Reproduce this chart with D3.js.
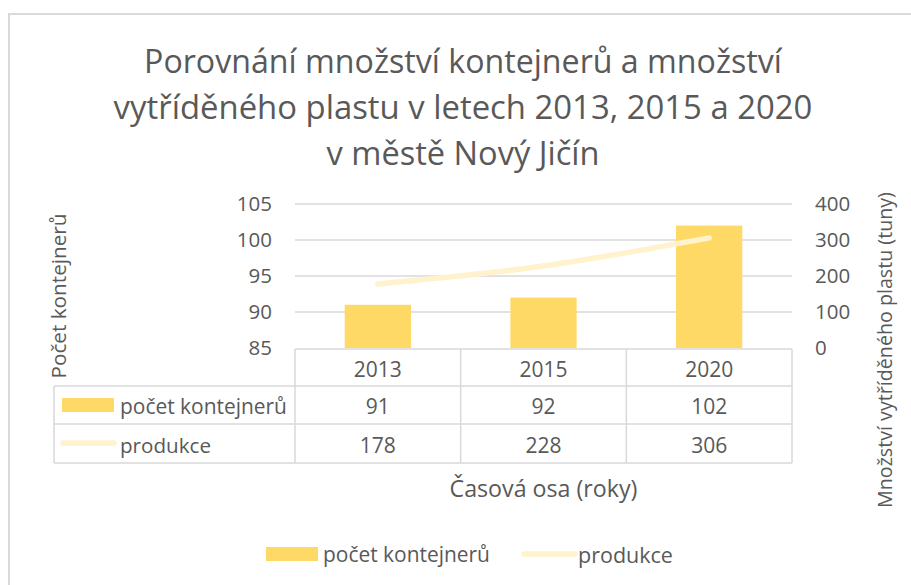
<!DOCTYPE html>
<html>
<head>
<meta charset="utf-8">
<script src="https://cdn.jsdelivr.net/npm/d3@7"></script>
<style>
  html, body { margin: 0; padding: 0; background: #fff; }
  svg { display: block; font-family: "Open Sans", sans-serif; }
</style>
</head>
<body>
<svg id="chart" width="911" height="585"></svg>
<script>
// ---- data ----
const years = ["2013", "2015", "2020"];
const containers = [91, 92, 102];
const production = [178, 228, 306];
const leftTicks = [85, 90, 95, 100, 105];
const rightTicks = [0, 100, 200, 300, 400];
const seriesNames = ["počet kontejnerů", "produkce"];
const titleLines = [
  "Porovnání množství kontejnerů a množství",
  "vytříděného plastu v letech 2013, 2015 a 2020",
  "v městě Nový Jičín"
];
const leftTitle = "Počet kontejnerů";
const rightTitle = "Množství vytříděného plastu (tuny)";
const xTitle = "Časová osa (roky)";

// ---- styles ----
const TXT = "#595959", GRID = "#D9D9D9", BAR = "#FFD966", LINE = "#FFF2CC";

const svg = d3.select("#chart");

function fit(el, target, base) {
  const w = el.node().getComputedTextLength();
  if (w > 0) el.style("font-size", (base * target / w).toFixed(2) + "px");
  return el;
}

// outer chart border
svg.append("rect").attr("x", 9).attr("y", 14).attr("width", 920).attr("height", 600)
  .attr("fill", "#fff").attr("stroke", GRID).attr("stroke-width", 2);

// plot area
const pl = 295, pr = 792, pt = 204, pb = 348;
const x = d3.scaleBand().domain(years).range([pl, pr]).paddingInner(0.6).paddingOuter(0.3);
const xc = d3.scaleBand().domain(years).range([pl, pr]);
const yL = d3.scaleLinear().domain([85, 105]).range([pb, pt]);
const yR = d3.scaleLinear().domain([0, 400]).range([pb, pt]);

// gridlines
svg.append("g").selectAll("line").data(leftTicks.filter(d => d !== 85)).join("line")
  .attr("x1", pl).attr("x2", pr).attr("y1", d => yL(d)).attr("y2", d => yL(d))
  .attr("stroke", GRID).attr("stroke-width", 1.3);

// left axis
const gL = svg.append("g").attr("transform", `translate(${pl},0)`)
  .call(d3.axisLeft(yL).tickValues(leftTicks).tickSize(0).tickPadding(23));
gL.select(".domain").remove();
gL.selectAll("text").attr("fill", TXT).style("font-size", "20.5px").style("font-family", "Open Sans");

// right axis
const gR = svg.append("g").attr("transform", `translate(${pr},0)`)
  .call(d3.axisRight(yR).tickValues(rightTicks).tickSize(0).tickPadding(23));
gR.select(".domain").remove();
gR.selectAll("text").attr("fill", TXT).style("font-size", "20.5px").style("font-family", "Open Sans");

// bars
svg.append("g").selectAll("rect").data(years).join("rect")
  .attr("x", d => x(d)).attr("width", x.bandwidth())
  .attr("y", (d, i) => yL(containers[i])).attr("height", (d, i) => pb - yL(containers[i]))
  .attr("fill", BAR);

// line
const lineGen = d3.line()
  .x((d, i) => xc(years[i]) + xc.bandwidth() / 2)
  .y(d => yR(d))
  .curve(d3.curveCatmullRom.alpha(0.5));
svg.append("path").datum(production).attr("d", lineGen)
  .attr("fill", "none").attr("stroke", LINE).attr("stroke-width", 5.5)
  .attr("stroke-linecap", "round").attr("stroke-linejoin", "round");

// data table
const tl = 54, r1 = 349, r2 = 386, r3 = 424, r4 = 463;
const tg = svg.append("g").attr("stroke", GRID).attr("stroke-width", 1.5).attr("fill", "none");
tg.append("line").attr("x1", pl).attr("x2", pr).attr("y1", r1).attr("y2", r1);
[r2, r3, r4].forEach(yy => tg.append("line").attr("x1", tl).attr("x2", pr).attr("y1", yy).attr("y2", yy));
tg.append("line").attr("x1", tl).attr("x2", tl).attr("y1", r2).attr("y2", r4);
years.forEach(yv => {
  tg.append("line").attr("x1", xc(yv)).attr("x2", xc(yv)).attr("y1", r1).attr("y2", r4);
});
tg.append("line").attr("x1", pr).attr("x2", pr).attr("y1", r1).attr("y2", r4);

const cellText = (txt, cx, cy, anchor, size) => svg.append("text").attr("x", cx).attr("y", cy)
  .attr("text-anchor", anchor || "middle").attr("dominant-baseline", "central")
  .attr("fill", TXT).style("font-size", (size || 21) + "px").text(txt);

years.forEach((yv, i) => {
  const cx = xc(yv) + xc.bandwidth() / 2;
  cellText(yv, cx, (r1 + r2) / 2 + 1);
  cellText(String(containers[i]), cx, (r2 + r3) / 2 + 1);
  cellText(String(production[i]), cx, (r3 + r4) / 2 + 1);
});
// table legend keys
svg.append("rect").attr("x", 62).attr("y", 398).attr("width", 52).attr("height", 14).attr("fill", BAR);
fit(cellText(seriesNames[0], 120, (r2 + r3) / 2 + 1, "start"), 167, 21);
svg.append("line").attr("x1", 63).attr("x2", 114).attr("y1", 443).attr("y2", 443)
  .attr("stroke", LINE).attr("stroke-width", 5.5).attr("stroke-linecap", "round");
fit(cellText(seriesNames[1], 120, (r3 + r4) / 2 + 1, "start"), 91, 21);

// axis titles
fit(svg.append("text").attr("transform", "translate(58,296) rotate(-90)")
  .attr("text-anchor", "middle").attr("dominant-baseline", "central")
  .attr("fill", TXT).style("font-size", "20px").text(leftTitle), 165, 20);
fit(svg.append("text").attr("transform", "translate(884,350) rotate(-90)")
  .attr("text-anchor", "middle").attr("dominant-baseline", "central")
  .attr("fill", TXT).style("font-size", "20px").text(rightTitle), 316, 20);
fit(svg.append("text").attr("x", (pl + pr) / 2).attr("y", 488)
  .attr("text-anchor", "middle").attr("dominant-baseline", "central")
  .attr("fill", TXT).style("font-size", "22px").text(xTitle), 188, 22);

// title
const titleY = [60, 106, 152];
const titleW = [638, 699, 273];
titleLines.forEach((t, i) => {
  const el = svg.append("text").attr("x", 463).attr("y", titleY[i])
    .attr("text-anchor", "middle").attr("dominant-baseline", "central")
    .attr("fill", TXT).style("font-size", "32px").text(t);
  fit(el, titleW[i], 32);
});

// bottom legend
svg.append("rect").attr("x", 266).attr("y", 547).attr("width", 52).attr("height", 14).attr("fill", BAR);
fit(svg.append("text").attr("x", 323).attr("y", 554).attr("dominant-baseline", "central")
  .attr("fill", TXT).style("font-size", "21px").text(seriesNames[0]), 167, 21);
svg.append("line").attr("x1", 524).attr("x2", 575).attr("y1", 554).attr("y2", 554)
  .attr("stroke", LINE).attr("stroke-width", 5.5).attr("stroke-linecap", "round");
fit(svg.append("text").attr("x", 578).attr("y", 554).attr("dominant-baseline", "central")
  .attr("fill", TXT).style("font-size", "21px").text(seriesNames[1]), 95, 21);
</script>
</body>
</html>
